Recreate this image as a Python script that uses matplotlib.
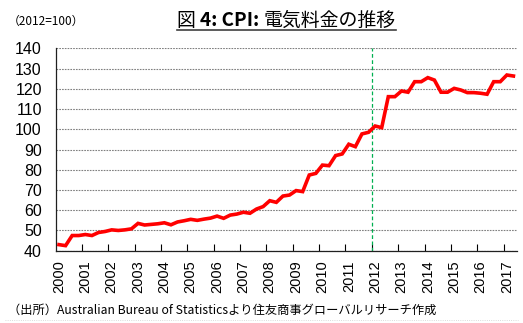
import numpy as np
import matplotlib
matplotlib.use('Agg')
from matplotlib import pyplot as plt
from matplotlib.lines import Line2D

plt.rcParams['font.family'] = ['Liberation Sans', 'Noto Sans CJK JP', 'DejaVu Sans']

# CPI electricity, quarterly 2000Q1 - 2017Q2 (2012=100)
years = [str(y) for y in range(2000, 2018)]
cpi = [43.0, 42.5, 47.5, 47.5,
       48.0, 47.5, 49.0, 49.5,
       50.3, 50.0, 50.3, 50.8,
       53.5, 52.7, 53.0, 53.3,
       53.8, 52.8, 54.2, 54.8,
       55.5, 55.0, 55.6, 56.1,
       57.1, 56.0, 57.6, 58.1,
       59.0, 58.5, 60.6, 61.8,
       64.7, 63.9, 67.0, 67.5,
       69.7, 69.2, 77.4, 78.2,
       82.3, 82.0, 87.0, 87.8,
       92.6, 91.4, 97.7, 98.5,
       101.6, 100.8, 116.1, 116.1,
       118.9, 118.3, 123.5, 123.5,
       125.5, 124.3, 118.3, 118.3,
       120.2, 119.4, 118.1, 118.1,
       117.8, 117.3, 123.5, 123.5,
       126.8, 126.3]
base_year = '2012'

fig = plt.figure(figsize=(5.23, 3.23), dpi=100)
ax = fig.add_axes([0.1065, 0.2238, 0.8815, 0.6267])

x = np.arange(len(cpi))
ax.plot(x, cpi, color='#FF0000', lw=2.6, solid_joinstyle='miter', zorder=3)

# vertical marker at start of base year
bx = years.index(base_year) * 4 - 0.5
ax.axvline(bx, color='#00B050', lw=0.9, ls=(0, (3, 2)), zorder=2)

ax.set_xlim(-0.5, len(cpi) - 0.5)
ax.set_ylim(40, 140)
ax.set_yticks(range(40, 141, 10))
ax.yaxis.grid(True, color='#808080', ls=(0, (1.5, 1)), lw=0.8)
ax.set_axisbelow(True)

ax.set_xticks(np.arange(len(years)) * 4)
ax.set_xticklabels(years, rotation=90)
ax.set_xticks(np.arange(3.5, len(cpi) - 1, 4), minor=True)
ax.tick_params(axis='x', which='major', length=0, pad=7, labelsize=10.5)
ax.tick_params(axis='x', which='minor', direction='in', length=5, width=0.8)
ax.tick_params(axis='y', length=0, pad=10, labelsize=11.5)

for s in ['top', 'right']:
    ax.spines[s].set_visible(False)
for s in ['left', 'bottom']:
    ax.spines[s].set_color('#202020')
    ax.spines[s].set_linewidth(0.9)

# title: CJK regular, latin part bold
cjk = ['Noto Sans CJK JP', 'DejaVu Sans']
t1 = fig.text(177/523, 1-20/323, '図 ', ha='left', va='center', fontsize=13.6, family=cjk)
t2 = ax.annotate('4: CPI: ', xy=(1, 0), xycoords=t1, ha='left', va='bottom',
                 fontsize=13.6, weight='bold', family=cjk)
t3 = ax.annotate('電気料金の推移', xy=(1, 0), xycoords=t2, ha='left', va='bottom',
                 fontsize=13.6, family=cjk)
fig.add_artist(Line2D([177/523, 396/523], [1-29.5/323, 1-29.5/323],
                      color='#404040', lw=1.2))
fig.text(0.015, 0.935, '（2012=100）', ha='left', va='center', fontsize=8.5, family=cjk)
fig.text(0.015, 0.04, '（出所）Australian Bureau of Statisticsより住友商事グローバルリサーチ作成',
         ha='left', va='center', fontsize=8.8, family=cjk)
fig.add_artist(Line2D([0.01, 0.99], [0.008, 0.008], color='#d0d0d0', lw=0.6, ls=':'))

fig.savefig('out.png', dpi=100)
